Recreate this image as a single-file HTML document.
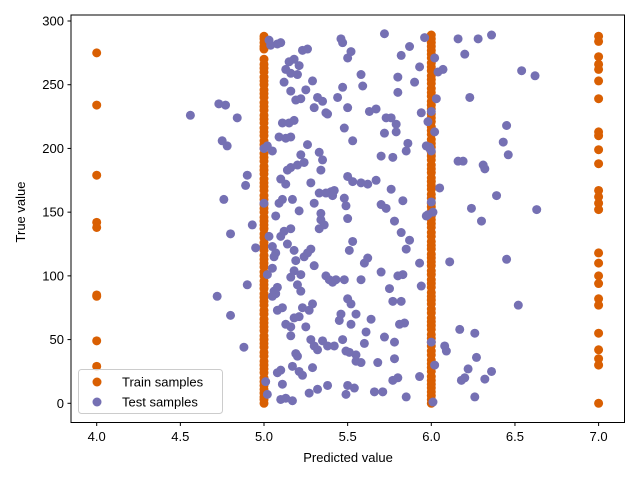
<!DOCTYPE html>
<html><head><meta charset="utf-8"><style>
body{margin:0;background:#fff;}
svg{display:block;font-family:"Liberation Sans","DejaVu Sans",sans-serif;}
</style></head><body>
<svg id="chart" width="640" height="480" viewBox="0 0 640 480" xmlns="http://www.w3.org/2000/svg">
<rect x="0" y="0" width="640" height="480" fill="#fff"/>
<g id="marks"></g>
<rect x="71" y="15" width="553.5" height="407.5" fill="none" stroke="#000" stroke-width="1"/>
<g id="xticks"></g>
<g id="yticks"></g>
<text x="348" y="462" font-size="13" text-anchor="middle">Predicted value</text>
<text x="0" y="0" font-size="13" text-anchor="middle" transform="translate(25,212) rotate(-90)">True value</text>
<g>
<rect x="78.5" y="369.5" width="144" height="44" rx="3" fill="#fff" fill-opacity="0.8" stroke="#ccc"/>
<circle cx="97" cy="382" r="4.5" fill="#d95f02"/>
<text x="122" y="386.5" font-size="13">Train samples</text>
<circle cx="97" cy="402" r="4.5" fill="#7570b3"/>
<text x="122" y="406.5" font-size="13">Test samples</text>
</g>
</svg>
<script>
const xTicks=[4.0,4.5,5.0,5.5,6.0,6.5,7.0];
const yTicks=[0,50,100,150,200,250,300];
const train4=[275,234,179,142,138,85,84,49,29];
const train5=[0,3,5,8,11,14,17,20,24,27,30,33,37,40,44,47,50,53,57,60,63,66,70,73,77,80,83,86,90,93,96,100,103,107,110,113,116,120,123,126,130,133,137,140,143,146,150,153,156,160,163,167,170,173,176,180,183,186,190,193,196,200,203,206,210,213,216,220,223,226,230,233,236,240,243,246,250,253,256,260,263,266,270,278,280,283,286,288];
const train6=[0,3,6,9,12,15,18,21,25,28,31,34,38,41,45,48,51,54,58,61,64,67,71,74,78,81,84,87,91,94,97,101,104,108,111,114,117,121,124,127,131,134,138,141,144,147,151,154,157,161,164,168,171,174,177,181,184,187,191,194,197,201,204,207,211,214,217,221,224,227,231,234,237,241,244,247,251,254,257,261,264,267,271,274,277,280,283,286,289];
const train7=[288,284,272,266,262,253,239,213,210,199,188,167,162,157,152,118,110,100,94,82,77,55,42,35,30,0];
const testX=[4.56,4.73,4.77,4.84,4.75,4.78,4.90,4.89,4.76,4.80,4.93,4.95,4.72,4.80,4.90,4.88,5.0,5.0,5.03,5.04,5.08,5.01,5.02,
5.10,5.23,5.26,5.15,5.18,5.21,5.13,5.16,5.20,5.12,5.29,5.25,5.19,5.22,5.32,5.30,5.35,5.37,5.16,5.15,5.11,5.18,5.09,5.13,5.16,5.38,5.44,5.47,5.50,5.46,5.47,5.52,5.63,5.59,5.58,5.50,5.48,5.53,5.72,5.67,5.73,5.72,5.76,5.79,5.80,5.80,5.82,5.87,5.90,5.93,5.96,5.85,5.86,5.79,5.70,5.77,5.94,5.97,5.99,5.98,6.02,6.03,6.07,6.04,6.20,6.16,6.23,6.36,6.28,6.54,6.62,6.45,6.43,6.46,6.31,6.32,6.19,6.00,6.02,6.00,5.99,5.26,5.22,5.24,5.20,5.16,5.14,5.28,5.05,5.02,6.0,6.01,5.98,5.97,6.05,6.16,6.24,6.30,6.39,6.63,6.45,6.11,6.52,
5.33,5.35,5.34,5.40,5.42,5.33,5.37,5.50,5.53,5.58,5.62,5.67,5.76,5.83,5.70,5.73,5.78,5.82,5.87,5.85,5.93,5.94,5.83,5.80,5.70,5.75,5.77,5.82,5.84,5.81,5.72,5.78,5.78,5.80,5.77,5.85,5.93,5.60,5.62,5.58,5.53,5.51,5.49,5.50,5.48,5.41,5.34,5.34,5.36,5.33,5.30,5.28,5.26,5.24,5.30,5.37,5.39,5.41,5.43,5.48,5.50,5.52,5.55,5.52,5.61,5.64,5.68,5.60,5.58,5.54,5.50,5.49,5.51,5.49,5.55,5.47,5.46,5.45,5.42,5.35,5.30,5.32,5.28,5.29,5.27,5.25,5.23,5.22,5.20,5.16,5.18,5.22,5.19,5.18,5.14,5.10,5.12,5.16,5.07,5.09,5.11,5.17,5.21,5.13,5.10,5.07,5.06,5.03,5.05,5.05,5.02,5.06,5.07,5.08,5.05,5.08,5.11,5.13,5.16,5.16,5.18,5.21,5.19,5.20,5.17,5.10,5.11,5.08,5.13,5.10,5.17,5.21,5.23,5.29,5.32,5.38,5.38,5.27,5.55,5.66,5.71,6.0,6.02,6.08,6.09,6.17,6.26,6.22,6.26,6.27,6.20,6.32,6.36,6.18,6.01];
const testY=[226,235,234,224,206,202,179,171,160,133,140,122,84,69,93,44,200,157,285,281,282,17,7,
283,277,278,268,270,265,262,259,258,252,253,246,238,239,240,232,237,228,245,220,220,222,209,208,209,227,240,248,271,286,283,276,229,249,258,232,216,206,290,231,224,212,224,219,244,256,273,280,252,264,287,198,204,213,194,193,228,202,200,221,271,239,262,260,274,286,240,289,286,261,257,218,205,195,187,184,190,229,213,198,201,203,195,189,187,185,183,173,198,202,158,150,148,147,169,190,153,143,163,152,113,111,77,
197,191,183,166,167,165,165,178,174,173,172,175,168,159,156,153,143,134,128,121,110,92,101,100,103,90,80,80,63,62,52,48,35,20,18,5,21,110,114,97,127,120,155,145,161,163,144,149,140,137,157,121,118,115,108,100,97,95,97,97,82,78,70,62,56,66,32,47,32,12,14,7,40,41,38,50,70,65,45,49,45,42,50,78,73,60,75,88,93,99,104,101,112,120,125,131,135,137,147,157,160,160,151,172,176,118,115,131,123,106,101,88,86,91,84,73,75,62,60,53,67,68,39,37,29,26,15,24,4,3,2,25,22,28,11,14,45,8,33,9,9,48,30,45,41,58,55,27,5,36,20,19,25,18,1];

const NS="http://www.w3.org/2000/svg";
const X0=96.7, XS=167.3, Y0=403.3, YS=1.2743;
function sx(v){return X0+(v-4)*XS;}
function sy(v){return Y0-v*YS;}
const marks=document.getElementById('marks');
function dot(x,y,c,name){
  const el=document.createElementNS(NS,'circle');
  el.setAttribute('cx',sx(x).toFixed(2));
  el.setAttribute('cy',sy(y).toFixed(2));
  el.setAttribute('r','4.5');
  el.setAttribute('fill',c);
  
  
  marks.appendChild(el);
}
const trainSets=[[4,train4],[5,train5],[6,train6],[7,train7]];
trainSets.forEach(function(s){s[1].forEach(function(y){dot(s[0],y,'#d95f02','train-point');});});
for(let i=0;i<testX.length;i++){dot(testX[i],testY[i],'#7570b3','test-point');}

const xg=document.getElementById('xticks');
xTicks.forEach(function(t){
  const l=document.createElementNS(NS,'line');
  l.setAttribute('x1',sx(t));l.setAttribute('x2',sx(t));
  l.setAttribute('y1',422.5);l.setAttribute('y2',426);
  l.setAttribute('stroke','#000');
  
  
  xg.appendChild(l);
  const tx=document.createElementNS(NS,'text');
  tx.setAttribute('x',sx(t));tx.setAttribute('y',441);
  tx.setAttribute('font-size','13');tx.setAttribute('text-anchor','middle');
  tx.textContent=t.toFixed(1);
  
  
  xg.appendChild(tx);
});
const yg=document.getElementById('yticks');
yTicks.forEach(function(t){
  const l=document.createElementNS(NS,'line');
  l.setAttribute('x1',67.5);l.setAttribute('x2',71);
  l.setAttribute('y1',sy(t));l.setAttribute('y2',sy(t));
  l.setAttribute('stroke','#000');
  
  
  yg.appendChild(l);
  const tx=document.createElementNS(NS,'text');
  tx.setAttribute('x',64);tx.setAttribute('y',sy(t)+4.5);
  tx.setAttribute('font-size','13');tx.setAttribute('text-anchor','end');
  tx.textContent=String(t);
  
  
  yg.appendChild(tx);
});
</script>
</body></html>
